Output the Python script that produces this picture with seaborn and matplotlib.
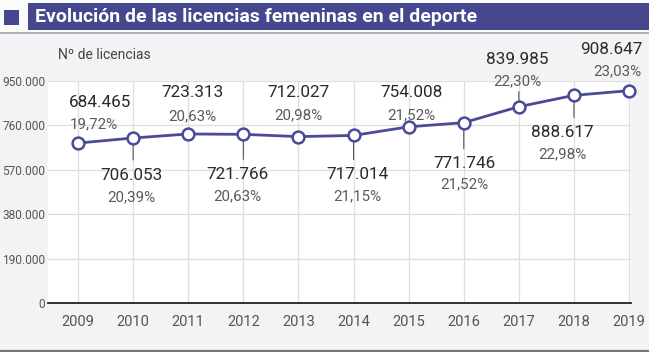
import matplotlib
matplotlib.use("Agg")
import matplotlib.pyplot as plt
import matplotlib.transforms as mtransforms
from matplotlib.patches import Rectangle
from matplotlib.lines import Line2D
import seaborn as sns
import pandas as pd

# ---- data ----
years = [2009, 2010, 2011, 2012, 2013, 2014, 2015, 2016, 2017, 2018, 2019]
licencias = [684465, 706053, 723313, 721766, 712027, 717014, 754008, 771746, 839985, 888617, 908647]
porcentaje = [19.72, 20.39, 20.63, 20.63, 20.98, 21.15, 21.52, 21.52, 22.30, 22.98, 23.03]
y_ticks = [0, 190000, 380000, 570000, 760000, 950000]
title = "Evolución de las licencias femeninas en el deporte"
y_label = "Nº de licencias"

# ---- label placement (pixels, image-down positive) ----
val_dy = [-41, 37, -41, 40, -44, 39, -34, 41, -47, 37, -41]
pct_dy = [-19, 59, -18, 62, -21, 61, -12, 62, -25, 59, -19]
val_dx = [22, -2, 4, -6, 0, 4, 3, 1, -2, -12, -18]
pct_dx = [16, -2, 4, -6, 0, 4, 3, 1, -2, -12, -12]
leader = [False, True, False, True, False, True, False, True, True, True, False]

W, H = 649, 352
sns.set_theme(style="white")
plt.rcParams["font.family"] = ["Roboto", "DejaVu Sans"]

fig = plt.figure(figsize=(W / 100, H / 100), dpi=100)
fig.patch.set_facecolor("#f3f3f5")

def fx(x):
    return x / W

def fy(y):
    return 1 - y / H

PURPLE = "#47478f"
LINE = "#4a4a98"

# header
fig.patches.append(Rectangle((0, fy(32)), 1, 32 / H, transform=fig.transFigure,
                             facecolor="#fbfbfc", edgecolor="none", zorder=0))
fig.patches.append(Rectangle((fx(28), fy(30)), fx(W - 28), 27 / H, transform=fig.transFigure,
                             facecolor=PURPLE, edgecolor="none", zorder=1))
fig.patches.append(Rectangle((fx(4), fy(25)), fx(15), 15 / H, transform=fig.transFigure,
                             facecolor=PURPLE, edgecolor="none", zorder=1))
fig.lines.append(Line2D([0, 1], [fy(32.5), fy(32.5)], transform=fig.transFigure,
                        color="#a2a2aa", lw=1.2))
fig.lines.append(Line2D([0, 1], [fy(350.5), fy(350.5)], transform=fig.transFigure,
                        color="#777777", lw=1.6))
fig.text(fx(35), fy(17), title, color="white", fontsize=14, fontweight="bold",
         va="center", ha="left")

# axes
ax = fig.add_axes([fx(48), fy(303), fx(583), 222 / H])
ax.set_facecolor("white")

df = pd.DataFrame({"year": years, "licencias": licencias})
sns.lineplot(data=df, x="year", y="licencias", ax=ax, color=LINE, lw=2.0,
             marker="o", markersize=8.5, markerfacecolor="white",
             markeredgecolor=LINE, markeredgewidth=1.8, zorder=4, clip_on=False)

ax.set_xlim(2008.455, 2019.035)
ax.set_ylim(0, 950000)
ax.set_xticks(years)
ax.set_xticklabels([str(y) for y in years], fontsize=10.5, color="#555555")
ax.set_yticks(y_ticks)
ax.set_yticklabels([f"{v:,}".replace(",", ".") for v in y_ticks], fontsize=8.6,
                   color="#555555")
off = mtransforms.ScaledTranslation(0, 4 / 100, fig.dpi_scale_trans)
for lab in ax.get_yticklabels():
    lab.set_transform(lab.get_transform() + off)
ax.tick_params(axis="x", length=0, pad=9)
ax.tick_params(axis="y", length=0, pad=2)
ax.set_xlabel("")
ax.set_ylabel("")

ax.grid(True, axis="both", color="#dedee2", lw=0.9)
ax.set_axisbelow(True)
for s in ["top", "right", "left"]:
    ax.spines[s].set_visible(False)
ax.spines["bottom"].set_color("#222222")
ax.spines["bottom"].set_linewidth(1.3)
ax.spines["bottom"].set_zorder(5)

fig.text(fx(58), fy(55), y_label, fontsize=10, color="#444444",
         va="center", ha="left")

for i, (yr, v, p) in enumerate(zip(years, licencias, porcentaje)):
    ax.annotate(f"{v:,}".replace(",", "."), xy=(yr, v), xytext=(val_dx[i], -val_dy[i]),
                textcoords="offset pixels", ha="center", va="center",
                fontsize=12.3, color="#2a2a2a", zorder=6,
                annotation_clip=False)
    ax.annotate(f"{p:.2f}".replace(".", ",") + "%", xy=(yr, v), xytext=(pct_dx[i], -pct_dy[i]),
                textcoords="offset pixels", ha="center", va="center",
                fontsize=10.9, color="#5a5a5a", zorder=6,
                annotation_clip=False)
    if leader[i]:
        end = val_dy[i] - 15 if val_dy[i] > 0 else pct_dy[i] + 10
        ax.annotate("", xy=(yr, v), xytext=(0, -end), textcoords="offset pixels",
                    arrowprops=dict(arrowstyle="-", color="#555555", lw=0.8,
                                    shrinkA=0, shrinkB=0), zorder=2,
                    annotation_clip=False)

fig.savefig("out.png", dpi=100, facecolor=fig.get_facecolor())
